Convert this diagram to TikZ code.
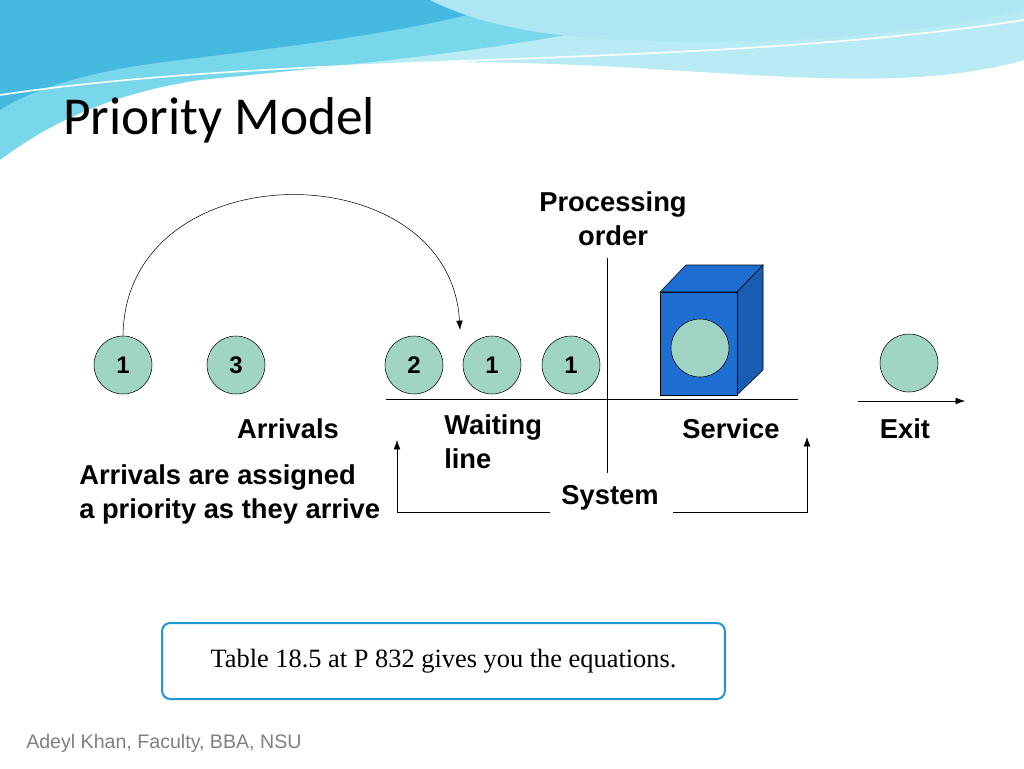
\documentclass[tikz,border=0pt]{standalone}
\usepackage{fontspec}
\setmainfont{Liberation Sans}
\newfontfamily\titlefont{Carlito}
\newfontfamily\notefont{Liberation Serif}
\usepackage{tikz}
\usetikzlibrary{positioning,arrows.meta}
\definecolor{ballfill}{RGB}{160,212,196}
\definecolor{boxblue}{RGB}{30,110,210}
\definecolor{waveA}{RGB}{120,215,235}
\definecolor{waveB}{RGB}{70,185,225}
\definecolor{waveC}{RGB}{185,235,245}
\definecolor{frameblue}{RGB}{30,150,210}
\tikzset{
  ball/.style={circle,draw=black,fill=ballfill,minimum size=43.5pt,inner sep=0pt,font=\bfseries\fontsize{18}{20}\selectfont},
  lbl/.style={inner sep=0.75pt,font=\bfseries\fontsize{20.5}{25.5}\selectfont,align=left},
  tip/.style={-{Latex[length=7pt,width=5pt]}},
}
\begin{document}
\begin{tikzpicture}[x=0.75pt,y=0.75pt,yscale=-1,xscale=1]
\useasboundingbox[fill=white] (0,0) rectangle (1024,768);

%Waves
\fill[waveC] (0,0) -- (1024,0) -- (1024,60) .. controls (850,110) and (600,40) .. (300,70) .. controls (150,85) and (60,90) .. (0,100) -- cycle;
\fill[waveA] (0,0) -- (700,0) .. controls (600,40) and (400,60) .. (200,80) .. controls (100,95) and (40,130) .. (0,160) -- cycle;
\fill[waveB] (0,0) -- (520,0) .. controls (430,30) and (300,45) .. (180,60) .. controls (90,70) and (30,90) .. (0,110) -- cycle;
\fill[waveA!60] (430,0) -- (1024,0) -- (1024,10) .. controls (900,40) and (700,50) .. (560,35) .. controls (500,28) and (460,15) .. (430,0) -- cycle;
\draw[white,line width=1.2] (0,95) .. controls (300,50) and (700,70) .. (1024,20);

% Title
\draw (62,120) node [anchor=west][inner sep=0.75pt] (title) {\titlefont\fontsize{40}{44}\selectfont Priority Model};

% Balls
\node[ball] (a1) at (123,365) {1};
\node[ball] (a3) at (236,365) {3};
\node[ball] (w2) at (414,365) {2};
\node[ball] (w1) at (492,365) {1};
\node[ball] (s1) at (571,365) {1};
\node[ball] (ex) at (909,363) {};

% Arc
\draw[tip] (a1.north) .. controls (125,150) and (450,150) .. (460,330);

% Axes
\draw (386,399) -- (798,399);
\draw (607,258) -- (607,473);
\coordinate (exA) at (858,401);
\coordinate (exB) at (965,401);
\draw[tip] (exA) -- (exB);

% Server box
\draw[fill=boxblue] (660,292) -- (686,265) -- (763,265) -- (737,292) -- cycle;
\draw[fill=boxblue!85!black] (737,292) -- (763,265) -- (763,370) -- (737,395) -- cycle;
\draw[fill=boxblue] (660,292) rectangle (737,395);
\node[ball] (sv) at (700,348) {};

% Text Node
\node[lbl,align=center] (proc) at (613,219) {Processing\\order};
\node[lbl] (arr) at (288,429) {Arrivals};
\node[lbl,anchor=north west] (wait) at (443,413) {Waiting\\line};
\node[lbl] (serv) at (731,429) {Service};
\node[lbl] (exit) at (905,429) {Exit};
\node[lbl,anchor=west] (note) at (78,494) {Arrivals are assigned\\a priority as they arrive};
\node[lbl] (sys) at (610,498) {System};

% System bracket
\coordinate (bl) at (397,512);
\coordinate (br) at (807,512);
\draw[tip] (550,512) -- (bl) -- (397,440);
\draw[tip] (673,512) -- (br) -- (807,437);

% Note box
\node[draw=frameblue,line width=1.5,rounded corners=6pt,minimum width=422pt,minimum height=57pt] (tbl) at (443.5,661) {\notefont\fontsize{19.8}{24}\selectfont Table 18.5 at P 832 gives you the equations.};

% Footer
\draw (25,743) node [anchor=west][inner sep=0.75pt] (foot) {\color{gray}\fontsize{14.7}{17}\selectfont Adeyl Khan, Faculty, BBA, NSU};
\end{tikzpicture}
\end{document}
